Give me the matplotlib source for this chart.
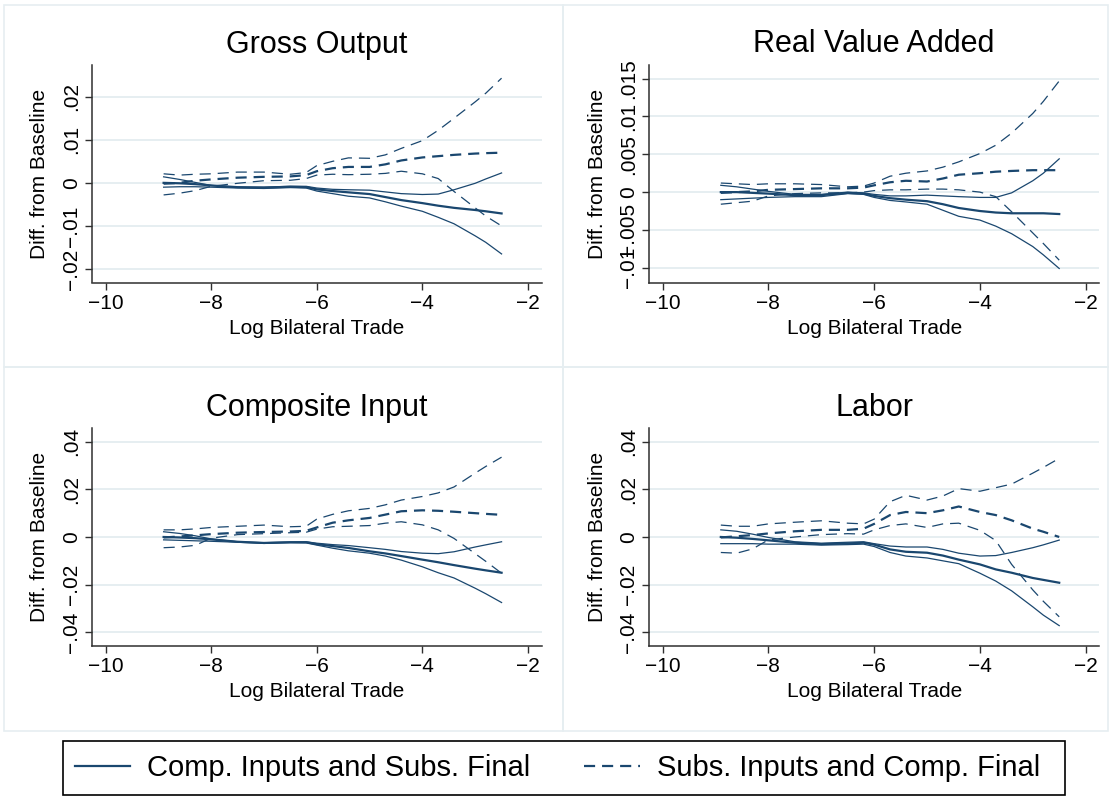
import numpy as np
import matplotlib
matplotlib.use("Agg")
import matplotlib.pyplot as plt
from matplotlib.patches import Rectangle

plt.rcParams['font.family'] = ['Liberation Sans', 'DejaVu Sans']
plt.rcParams['lines.scale_dashes'] = False

# common x grid (log bilateral trade)
x = [-8.9, -8.6, -8.3, -8.0, -7.5, -7.0, -6.5, -6.2, -6.0, -5.7,
     -5.4, -5.0, -4.7, -4.4, -4.0, -3.7, -3.4, -3.0, -2.8, -2.5]

# Gross Output
go_solid_mid = [0.0, -0.0001, -0.0003, -0.0006, -0.0010, -0.0011, -0.0009, -0.0010, -0.0015, -0.0019,
                -0.0022, -0.0026, -0.0033, -0.0040, -0.0047, -0.0053, -0.0058, -0.0063, -0.0066, -0.0071]
go_solid_hi = [0.0014, 0.0008, 0.0001, -0.0006, -0.0010, -0.0010, -0.0008, -0.0008, -0.0012, -0.0015,
               -0.0016, -0.0017, -0.0021, -0.0025, -0.0027, -0.0026, -0.0016, -0.0001, 0.0009, 0.0023]
go_solid_lo = [-0.0010, -0.0009, -0.0009, -0.0010, -0.0012, -0.0013, -0.0011, -0.0012, -0.0019, -0.0025,
               -0.0031, -0.0035, -0.0044, -0.0054, -0.0066, -0.0080, -0.0095, -0.0123, -0.0138, -0.0165]
go_dash_mid = [-0.0002, 0.0, 0.0005, 0.0008, 0.0012, 0.0014, 0.0015, 0.0018, 0.0027, 0.0034,
               0.0037, 0.0037, 0.0043, 0.0052, 0.0059, 0.0062, 0.0065, 0.0068, 0.0069, 0.0070]
go_dash_hi = [0.0021, 0.0018, 0.0020, 0.0021, 0.0025, 0.0025, 0.0020, 0.0024, 0.0040, 0.0050,
              0.0058, 0.0057, 0.0065, 0.0080, 0.0098, 0.0122, 0.0150, 0.0188, 0.0208, 0.0243]
go_dash_lo = [-0.0028, -0.0024, -0.0018, -0.0008, -0.0001, 0.0005, 0.0006, 0.0010, 0.0018, 0.0020,
              0.0019, 0.0020, 0.0022, 0.0027, 0.0021, 0.0010, -0.0020, -0.0058, -0.0077, -0.0100]

# Real Value Added
rva_solid_mid = [0.0, 0.0, -0.0001, -0.0002, -0.0004, -0.0004, -0.0001, -0.0002, -0.0005, -0.0008,
                 -0.0010, -0.0012, -0.0016, -0.0021, -0.0025, -0.0027, -0.0028, -0.0028, -0.0028, -0.0029]
rva_solid_hi = [0.0009, 0.0007, 0.0004, 0.0001, -0.0003, -0.0003, 0.0, -0.0001, -0.0003, -0.0005,
                -0.0005, -0.0004, -0.0005, -0.0006, -0.0007, -0.0007, -0.0001, 0.0015, 0.0025, 0.0044]
rva_solid_lo = [-0.0010, -0.0009, -0.0008, -0.0007, -0.0006, -0.0006, -0.0002, -0.0003, -0.0007, -0.0011,
                -0.0013, -0.0016, -0.0024, -0.0032, -0.0037, -0.0045, -0.0055, -0.0072, -0.0083, -0.0101]
rva_dash_mid = [-0.0001, 0.0, 0.0001, 0.0003, 0.0004, 0.0005, 0.0005, 0.0006, 0.0009, 0.0013,
                0.0015, 0.0014, 0.0018, 0.0023, 0.0025, 0.0027, 0.0028, 0.0029, 0.0029, 0.0029]
rva_dash_hi = [0.0012, 0.0011, 0.0010, 0.0011, 0.0011, 0.0010, 0.0007, 0.0008, 0.0012, 0.0021,
               0.0025, 0.0028, 0.0033, 0.0040, 0.0051, 0.0062, 0.0078, 0.0104, 0.0120, 0.0147]
rva_dash_lo = [-0.0016, -0.0014, -0.0012, -0.0005, -0.0002, -0.0001, -0.0001, 0.0, 0.0002, 0.0003,
               0.0003, 0.0004, 0.0004, 0.0003, 0.0, -0.0006, -0.0026, -0.0054, -0.0068, -0.0090]

# Composite Input
ci_solid_mid = [0.0, -0.0002, -0.0005, -0.0010, -0.0020, -0.0025, -0.0022, -0.0022, -0.0030, -0.0038,
                -0.0046, -0.0060, -0.0069, -0.0080, -0.0095, -0.0106, -0.0118, -0.0133, -0.0140, -0.0150]
ci_solid_hi = [0.0022, 0.0015, 0.0005, -0.0008, -0.0020, -0.0024, -0.0021, -0.0020, -0.0026, -0.0032,
               -0.0036, -0.0045, -0.0052, -0.0061, -0.0068, -0.0070, -0.0062, -0.0042, -0.0033, -0.0020]
ci_solid_lo = [-0.0012, -0.0014, -0.0016, -0.0018, -0.0022, -0.0027, -0.0024, -0.0025, -0.0034, -0.0047,
               -0.0058, -0.0068, -0.0080, -0.0097, -0.0125, -0.0150, -0.0172, -0.0215, -0.0238, -0.0275]
ci_dash_mid = [-0.0002, 0.0002, 0.0007, 0.0012, 0.0018, 0.0021, 0.0023, 0.0026, 0.0040, 0.0060,
               0.0070, 0.0080, 0.0094, 0.0108, 0.0112, 0.0110, 0.0106, 0.0100, 0.0097, 0.0093]
ci_dash_hi = [0.0030, 0.0030, 0.0034, 0.0040, 0.0045, 0.0050, 0.0043, 0.0045, 0.0075, 0.0095,
              0.0110, 0.0120, 0.0135, 0.0155, 0.0170, 0.0185, 0.0210, 0.0268, 0.0296, 0.0335]
ci_dash_lo = [-0.0045, -0.0042, -0.0035, -0.0005, 0.0010, 0.0014, 0.0018, 0.0020, 0.0033, 0.0043,
              0.0045, 0.0048, 0.0058, 0.0064, 0.0051, 0.0030, -0.0006, -0.0070, -0.0102, -0.0152]

# Labor
lab_solid_mid = [0.0, -0.0003, -0.0008, -0.0014, -0.0024, -0.0030, -0.0027, -0.0024, -0.0032, -0.0052,
                 -0.0062, -0.0066, -0.0078, -0.0095, -0.0115, -0.0136, -0.0150, -0.0172, -0.0180, -0.0192]
lab_solid_hi = [0.0030, 0.0024, 0.0012, -0.0002, -0.0020, -0.0026, -0.0022, -0.0020, -0.0028, -0.0038,
                -0.0042, -0.0042, -0.0052, -0.0068, -0.0080, -0.0078, -0.0065, -0.0045, -0.0033, -0.0013]
lab_solid_lo = [-0.0028, -0.0028, -0.0028, -0.0030, -0.0030, -0.0034, -0.0032, -0.0030, -0.0040, -0.0065,
                -0.0080, -0.0088, -0.0100, -0.0112, -0.0152, -0.0185, -0.0226, -0.0293, -0.0328, -0.0372]
lab_dash_mid = [-0.0002, 0.0003, 0.0008, 0.0015, 0.0024, 0.0030, 0.0030, 0.0035, 0.0055, 0.0092,
                0.0105, 0.0100, 0.0112, 0.0128, 0.0105, 0.0092, 0.0070, 0.0035, 0.0022, 0.0]
lab_dash_hi = [0.0050, 0.0045, 0.0045, 0.0055, 0.0062, 0.0068, 0.0058, 0.0055, 0.0075, 0.0148,
               0.0175, 0.0155, 0.0172, 0.0203, 0.0192, 0.0207, 0.0222, 0.0268, 0.0292, 0.0330]
lab_dash_lo = [-0.0065, -0.0068, -0.0050, -0.0012, 0.0, 0.0010, 0.0014, 0.0012, 0.0030, 0.0048,
               0.0055, 0.0040, 0.0055, 0.0058, 0.0028, -0.0015, -0.0115, -0.0222, -0.0270, -0.0335]

titles = ['Gross Output', 'Real Value Added', 'Composite Input', 'Labor']
legend_labels = ['Comp. Inputs and Subs. Final', 'Subs. Inputs and Comp. Final']
xticks = [-10, -8, -6, -4, -2]
xlabels = ['\u221210', '\u22128', '\u22126', '\u22124', '\u22122']
yticks_go = [-0.02, -0.01, 0, 0.01, 0.02]
ylabels_go = ['\u2212.02', '\u2212.01', '0', '.01', '.02']
yticks_rva = [-0.01, -0.005, 0, 0.005, 0.01, 0.015]
ylabels_rva = ['\u2212.01', '\u2212.005', '0', '.005', '.01', '.015']
yticks_big = [-0.04, -0.02, 0, 0.02, 0.04]
ylabels_big = ['\u2212.04', '\u2212.02', '0', '.02', '.04']

navy = '#1a476f'
grid_c = '#e6eef1'
axis_c = '#2f2f2f'
W, H = 1111, 796

fig = plt.figure(figsize=(W / 100, H / 100), dpi=100)

def px_rect(x0, y0, x1, y1):
    # pixel box (top-left origin) -> figure fraction
    return (x0 / W, 1 - y1 / H, (x1 - x0) / W, (y1 - y0) / H)

# light frames around each sub-graph
for box in [(4, 5, 563, 367), (563, 5, 1108, 367), (4, 367, 563, 731), (563, 367, 1108, 731)]:
    l, b, w, h = px_rect(*box)
    fig.patches.append(Rectangle((l, b), w, h, transform=fig.transFigure, fill=False,
                                 edgecolor=grid_c, linewidth=1.2))

panels = [
    (titles[0], (91.8, 65, 541.7, 282.5), (-0.02313, 0.02736), yticks_go, ylabels_go,
     go_solid_mid, go_solid_hi, go_solid_lo, go_dash_mid, go_dash_hi, go_dash_lo),
    (titles[1], (648.9, 65, 1099.4, 282.7), (-0.01198, 0.01681), yticks_rva, ylabels_rva,
     rva_solid_mid, rva_solid_hi, rva_solid_lo, rva_dash_mid, rva_dash_hi, rva_dash_lo),
    (titles[2], (91.8, 428.3, 541.7, 646), (-0.04575, 0.04562), yticks_big, ylabels_big,
     ci_solid_mid, ci_solid_hi, ci_solid_lo, ci_dash_mid, ci_dash_hi, ci_dash_lo),
    (titles[3], (648.9, 428.3, 1099.4, 646), (-0.04575, 0.04562), yticks_big, ylabels_big,
     lab_solid_mid, lab_solid_hi, lab_solid_lo, lab_dash_mid, lab_dash_hi, lab_dash_lo),
]

dash = (0, (8, 5))
handles = None
for title, box, ylim, yt, yl, smid, shi, slo, dmid, dhi, dlo in panels:
    px0, py0, px1, py1 = box
    ax = fig.add_axes(px_rect(*box))
    ax.set_xlim(-10.26, -1.74)
    ax.set_ylim(*ylim)
    for s in ['top', 'right']:
        ax.spines[s].set_visible(False)
    for s in ['left', 'bottom']:
        ax.spines[s].set_color(axis_c)
        ax.spines[s].set_linewidth(1.1)
    ax.set_xticks(xticks)
    ax.set_xticklabels(xlabels)
    ax.set_yticks(yt)
    ax.set_yticklabels(yl, rotation=90, va='center', ha='center')
    ax.tick_params(axis='both', direction='out', length=5, width=1.0, color=axis_c,
                   labelsize=15, labelcolor='black')
    ax.tick_params(axis='y', pad=9.5)
    ax.tick_params(axis='x', pad=3)
    ax.grid(axis='y', color=grid_c, linewidth=1.4)
    ax.set_axisbelow(True)

    l1, = ax.plot(x, smid, color=navy, lw=1.6)
    ax.plot(x, shi, color=navy, lw=0.9)
    ax.plot(x, slo, color=navy, lw=0.9)
    l2, = ax.plot(x, dmid, color=navy, lw=1.6, linestyle=dash)
    ax.plot(x, dhi, color=navy, lw=0.9, linestyle=dash)
    ax.plot(x, dlo, color=navy, lw=0.9, linestyle=dash)
    if handles is None:
        handles = [l1, l2]

    ax.set_title(title, fontsize=22, pad=9)
    ax.set_xlabel('Log Bilateral Trade', fontsize=15)
    ax.xaxis.label.set_va('center')
    ax.xaxis.set_label_coords(0.5, -45.5 / (py1 - py0))
    ax.set_ylabel('Diff. from Baseline', fontsize=15)
    ax.yaxis.label.set_va('center')
    ax.yaxis.set_label_coords(-51.8 / (px1 - px0), 0.5)

# legend box
l, b, w, h = px_rect(62.7, 741, 1065, 795)
fig.patches.append(Rectangle((l, b), w, h, transform=fig.transFigure, fill=False,
                             edgecolor='black', linewidth=1.2))
fig.legend(handles, legend_labels, loc='center left', ncol=2,
           bbox_to_anchor=(62.7 / W, 1 - 768 / H), frameon=False,
           fontsize=21, handlelength=1.9, handletextpad=0.58, columnspacing=1.85,
           borderaxespad=0, borderpad=0.42)

fig.savefig('out.png', dpi=100, facecolor='white')
